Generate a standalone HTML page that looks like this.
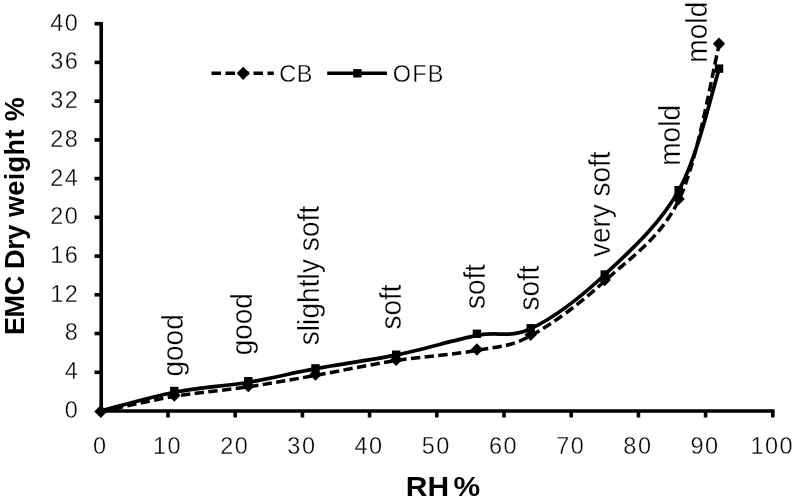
<!DOCTYPE html>
<html><head><meta charset="utf-8"><title>EMC vs RH</title>
<style>
html,body{margin:0;padding:0;background:#fff;}
svg{display:block;}
text{font-family:"Liberation Sans",sans-serif;fill:#000;stroke:#fff;stroke-width:0.35px;}
.b{font-weight:bold;stroke:none;}
</style></head><body>
<svg width="793" height="498" viewBox="0 0 793 498">
<rect width="793" height="498" fill="#fff"/>

<g stroke="#000" stroke-width="3.6" fill="none" stroke-linecap="butt">
<path d="M101.2,21.9 V411.0 H774.6"/>
<path d="M94.5,372.3 H101.2"/>
<path d="M94.5,333.5 H101.2"/>
<path d="M94.5,294.8 H101.2"/>
<path d="M94.5,256.1 H101.2"/>
<path d="M94.5,217.3 H101.2"/>
<path d="M94.5,178.6 H101.2"/>
<path d="M94.5,139.9 H101.2"/>
<path d="M94.5,101.2 H101.2"/>
<path d="M94.5,62.4 H101.2"/>
<path d="M94.5,23.7 H101.2"/>
<path d="M168.0,411.0 V417.5"/>
<path d="M235.2,411.0 V417.5"/>
<path d="M302.4,411.0 V417.5"/>
<path d="M369.6,411.0 V417.5"/>
<path d="M436.8,411.0 V417.5"/>
<path d="M504.0,411.0 V417.5"/>
<path d="M571.2,411.0 V417.5"/>
<path d="M638.4,411.0 V417.5"/>
<path d="M705.6,411.0 V417.5"/>
<path d="M772.8,411.0 V417.5"/>
</g>
<text transform="translate(79.3,417.9) scale(1.000,1)" font-size="23.5" letter-spacing="1.5" text-anchor="end">0</text>
<text transform="translate(79.3,379.2) scale(1.000,1)" font-size="23.5" letter-spacing="1.5" text-anchor="end">4</text>
<text transform="translate(79.3,340.4) scale(1.000,1)" font-size="23.5" letter-spacing="1.5" text-anchor="end">8</text>
<text transform="translate(79.3,301.7) scale(1.000,1)" font-size="23.5" letter-spacing="1.5" text-anchor="end">12</text>
<text transform="translate(79.3,263.0) scale(1.000,1)" font-size="23.5" letter-spacing="1.5" text-anchor="end">16</text>
<text transform="translate(79.3,224.2) scale(1.000,1)" font-size="23.5" letter-spacing="1.5" text-anchor="end">20</text>
<text transform="translate(79.3,185.5) scale(1.000,1)" font-size="23.5" letter-spacing="1.5" text-anchor="end">24</text>
<text transform="translate(79.3,146.8) scale(1.000,1)" font-size="23.5" letter-spacing="1.5" text-anchor="end">28</text>
<text transform="translate(79.3,108.1) scale(1.000,1)" font-size="23.5" letter-spacing="1.5" text-anchor="end">32</text>
<text transform="translate(79.3,69.3) scale(1.000,1)" font-size="23.5" letter-spacing="1.5" text-anchor="end">36</text>
<text transform="translate(79.3,30.6) scale(1.000,1)" font-size="23.5" letter-spacing="1.5" text-anchor="end">40</text>
<text transform="translate(100.3,453.6) scale(1.000,1)" font-size="23.5" letter-spacing="1.5" text-anchor="middle">0</text>
<text transform="translate(167.5,453.6) scale(1.000,1)" font-size="23.5" letter-spacing="1.5" text-anchor="middle">10</text>
<text transform="translate(234.7,453.6) scale(1.000,1)" font-size="23.5" letter-spacing="1.5" text-anchor="middle">20</text>
<text transform="translate(301.9,453.6) scale(1.000,1)" font-size="23.5" letter-spacing="1.5" text-anchor="middle">30</text>
<text transform="translate(369.1,453.6) scale(1.000,1)" font-size="23.5" letter-spacing="1.5" text-anchor="middle">40</text>
<text transform="translate(436.3,453.6) scale(1.000,1)" font-size="23.5" letter-spacing="1.5" text-anchor="middle">50</text>
<text transform="translate(503.5,453.6) scale(1.000,1)" font-size="23.5" letter-spacing="1.5" text-anchor="middle">60</text>
<text transform="translate(570.7,453.6) scale(1.000,1)" font-size="23.5" letter-spacing="1.5" text-anchor="middle">70</text>
<text transform="translate(637.9,453.6) scale(1.000,1)" font-size="23.5" letter-spacing="1.5" text-anchor="middle">80</text>
<text transform="translate(705.1,453.6) scale(1.000,1)" font-size="23.5" letter-spacing="1.5" text-anchor="middle">90</text>
<text transform="translate(772.3,453.6) scale(1.000,1)" font-size="23.5" letter-spacing="1.5" text-anchor="middle">100</text>
<text class="b" transform="translate(443.0,496.2) scale(1.11,1)" font-size="27.0" word-spacing="-3.4" text-anchor="middle">RH %</text>
<text class="b" transform="translate(24.0,216.0) scale(1.045,1) rotate(-90)" font-size="27.1" text-anchor="middle"><tspan letter-spacing="-0.4">EMC Dry</tspan><tspan letter-spacing="0.35"> weight %</tspan></text>
<g stroke="#000" stroke-width="3.4" fill="none">
<path d="M211.5,73.3 H273.8" stroke-dasharray="9.5 4.5"/>
<path d="M327.2,73.3 H386.9"/>
</g>
<path d="M236.6,73.3 l6.6,-6.6 l6.6,6.6 l-6.6,6.6 z"/>
<rect x="353.2" y="69.1" width="8.4" height="8.4"/>
<text transform="translate(279.2,81.6)" font-size="23.5" letter-spacing="0.5">CB</text>
<text transform="translate(392.8,81.6)" font-size="23.5" letter-spacing="1.1">OFB</text>
<path d="M100.30,411.00 C112.63,408.42 149.62,399.67 174.27,395.50 C198.93,391.33 224.71,389.50 248.25,386.00 C271.79,382.50 290.84,378.88 315.50,374.50 C340.16,370.12 369.30,363.87 396.20,359.70 C423.10,355.53 454.48,353.65 476.90,349.50 C499.32,345.35 509.40,346.38 530.70,334.80 C552.00,323.22 580.02,302.63 604.67,280.00 C629.33,257.37 659.60,238.38 678.65,199.00 C697.70,159.62 712.27,69.58 719.00,43.70" stroke="#000" stroke-width="3.5" fill="none" stroke-dasharray="9.3 4.4" transform="translate(0.3,0.8)"/>
<path d="M100.60,411.00 C112.93,407.87 149.92,397.00 174.57,392.20 C199.23,387.40 225.01,386.13 248.55,382.20 C272.09,378.27 291.14,373.15 315.80,368.60 C340.46,364.05 369.60,360.43 396.50,354.90 C423.40,349.37 454.78,339.78 477.20,335.40 C499.62,331.02 509.70,338.75 531.00,328.60 C552.30,318.45 580.32,297.57 604.97,274.50 C629.63,251.43 659.90,224.52 678.95,190.20 C698.00,155.88 712.57,88.87 719.30,68.60" stroke="#000" stroke-width="3.7" fill="none"/>
<path d="M94.3,411.4 l6.5,-6.5 l6.5,6.5 l-6.5,6.5 z"/>
<path d="M168.1,395.5 l6.2,-6.2 l6.2,6.2 l-6.2,6.2 z"/>
<path d="M242.1,386.0 l6.2,-6.2 l6.2,6.2 l-6.2,6.2 z"/>
<path d="M309.3,374.5 l6.2,-6.2 l6.2,6.2 l-6.2,6.2 z"/>
<path d="M390.0,359.7 l6.2,-6.2 l6.2,6.2 l-6.2,6.2 z"/>
<path d="M470.7,349.5 l6.2,-6.2 l6.2,6.2 l-6.2,6.2 z"/>
<path d="M524.5,334.8 l6.2,-6.2 l6.2,6.2 l-6.2,6.2 z"/>
<path d="M598.5,280.0 l6.2,-6.2 l6.2,6.2 l-6.2,6.2 z"/>
<path d="M672.4,199.0 l6.2,-6.2 l6.2,6.2 l-6.2,6.2 z"/>
<path d="M712.8,43.7 l6.2,-6.2 l6.2,6.2 l-6.2,6.2 z"/>
<rect x="170.1" y="386.8" width="8.4" height="8.4"/>
<rect x="244.1" y="377.0" width="8.4" height="8.4"/>
<rect x="311.3" y="364.2" width="8.4" height="8.4"/>
<rect x="392.0" y="350.5" width="8.4" height="8.4"/>
<rect x="472.7" y="329.6" width="8.4" height="8.4"/>
<rect x="526.5" y="324.1" width="8.4" height="8.4"/>
<rect x="600.5" y="270.3" width="8.4" height="8.4"/>
<rect x="674.4" y="186.0" width="8.4" height="8.4"/>
<rect x="714.8" y="64.4" width="8.4" height="8.4"/>
<text transform="translate(183.4,376.4) scale(1.04,1) rotate(-90)" font-size="27.9" letter-spacing="0.00">good</text>
<text transform="translate(252.1,355.3) scale(1.04,1) rotate(-90)" font-size="27.9" letter-spacing="0.00">good</text>
<text transform="translate(319.4,345.3) scale(1.04,1) rotate(-90)" font-size="27.9" letter-spacing="0.13">slightly soft</text>
<text transform="translate(400.5,329.5) scale(1.04,1) rotate(-90)" font-size="27.9" letter-spacing="0.00">soft</text>
<text transform="translate(484.5,308.9) scale(1.04,1) rotate(-90)" font-size="27.9" letter-spacing="0.00">soft</text>
<text transform="translate(538.8,310.5) scale(1.04,1) rotate(-90)" font-size="27.9" letter-spacing="0.00">soft</text>
<text transform="translate(610.1,257.0) scale(1.04,1) rotate(-90)" font-size="27.9" letter-spacing="0.00">very soft</text>
<text transform="translate(680.2,165.8) scale(1.04,1) rotate(-90)" font-size="27.9" letter-spacing="0.15">mold</text>
<text transform="translate(706.6,62.7) scale(1.04,1) rotate(-90)" font-size="27.9" letter-spacing="0.15">mold</text>
</svg></body></html>
